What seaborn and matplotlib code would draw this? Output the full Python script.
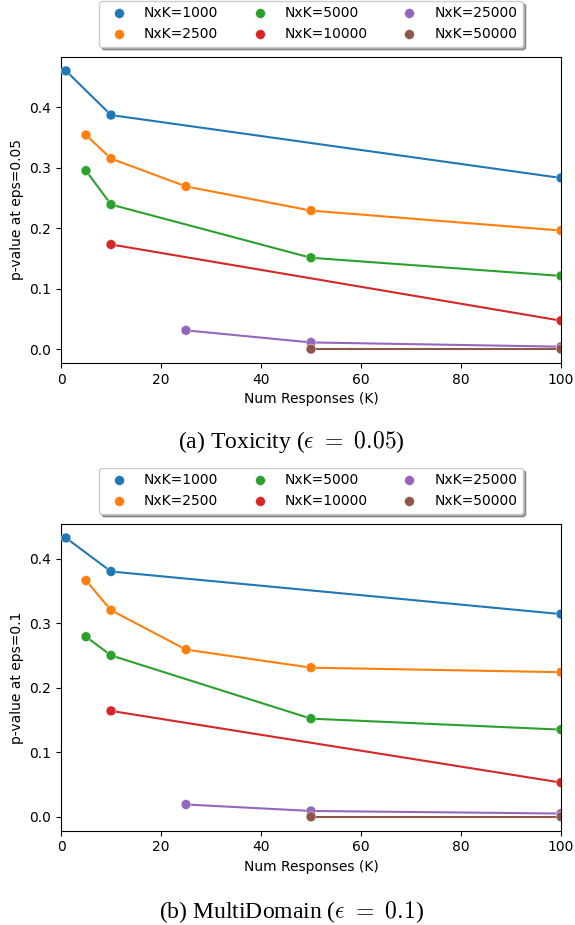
import matplotlib
matplotlib.use("Agg")
import matplotlib.pyplot as plt
import seaborn as sns
import pandas as pd

# ---- data ----
series_labels = ["NxK=1000", "NxK=2500", "NxK=5000", "NxK=10000", "NxK=25000", "NxK=50000"]
k_1000 = [1, 10, 100]
k_2500 = [5, 10, 25, 50, 100]
k_5000 = [5, 10, 50, 100]
k_10000 = [10, 100]
k_25000 = [25, 50, 100]
k_50000 = [50, 100]

tox_1000 = [0.460, 0.387, 0.283]
tox_2500 = [0.354, 0.315, 0.269, 0.229, 0.196]
tox_5000 = [0.295, 0.239, 0.151, 0.121]
tox_10000 = [0.173, 0.047]
tox_25000 = [0.031, 0.011, 0.004]
tox_50000 = [0.000, 0.000]

md_1000 = [0.432, 0.380, 0.314]
md_2500 = [0.366, 0.320, 0.259, 0.231, 0.224]
md_5000 = [0.279, 0.250, 0.152, 0.135]
md_10000 = [0.164, 0.053]
md_25000 = [0.019, 0.009, 0.005]
md_50000 = [0.000, 0.000]

k_lists = [k_1000, k_2500, k_5000, k_10000, k_25000, k_50000]
tox_lists = [tox_1000, tox_2500, tox_5000, tox_10000, tox_25000, tox_50000]
md_lists = [md_1000, md_2500, md_5000, md_10000, md_25000, md_50000]


def build(vals_lists):
    rows = []
    for lab, ks, vs in zip(series_labels, k_lists, vals_lists):
        for k, v in zip(ks, vs):
            rows.append({"K": k, "p": v, "series": lab})
    return pd.DataFrame(rows)


df_tox = build(tox_lists)
df_md = build(md_lists)

plt.rcParams["mathtext.fontset"] = "cm"
palette = sns.color_palette("tab10", 6)

fig = plt.figure(figsize=(5.75, 9.25), dpi=100)
ax1 = fig.add_axes([61 / 575, 1 - 363 / 925, 500 / 575, 306 / 925])
ax2 = fig.add_axes([61 / 575, 1 - 830.7 / 925, 500 / 575, 306.7 / 925])

for ax, df, ylab in [(ax1, df_tox, "p-value at eps=0.05"), (ax2, df_md, "p-value at eps=0.1")]:
    sns.lineplot(data=df, x="K", y="p", hue="series", hue_order=series_labels,
                 palette=palette, legend=False, ax=ax)
    sns.scatterplot(data=df, x="K", y="p", hue="series", hue_order=series_labels,
                    palette=palette, s=50, linewidth=0.3, ax=ax, zorder=3)
    ax.set_xlim(0, 100)
    ax.set_xlabel("Num Responses (K)")
    ax.set_ylabel(ylab)
    sns.move_legend(ax, "lower center", bbox_to_anchor=(0.5, 1.01), ncol=3,
                    shadow=True, title=None, frameon=True)

fig.text(291 / 575, 1 - 442 / 925, r"(a) Toxicity ($\epsilon\ =\ 0.05$)",
         ha="center", va="center", fontsize=17, family="Liberation Serif")
fig.text(291 / 575, 1 - 912 / 925, r"(b) MultiDomain ($\epsilon\ =\ 0.1$)",
         ha="center", va="center", fontsize=17, family="Liberation Serif")

fig.savefig("out.png", dpi=100)
